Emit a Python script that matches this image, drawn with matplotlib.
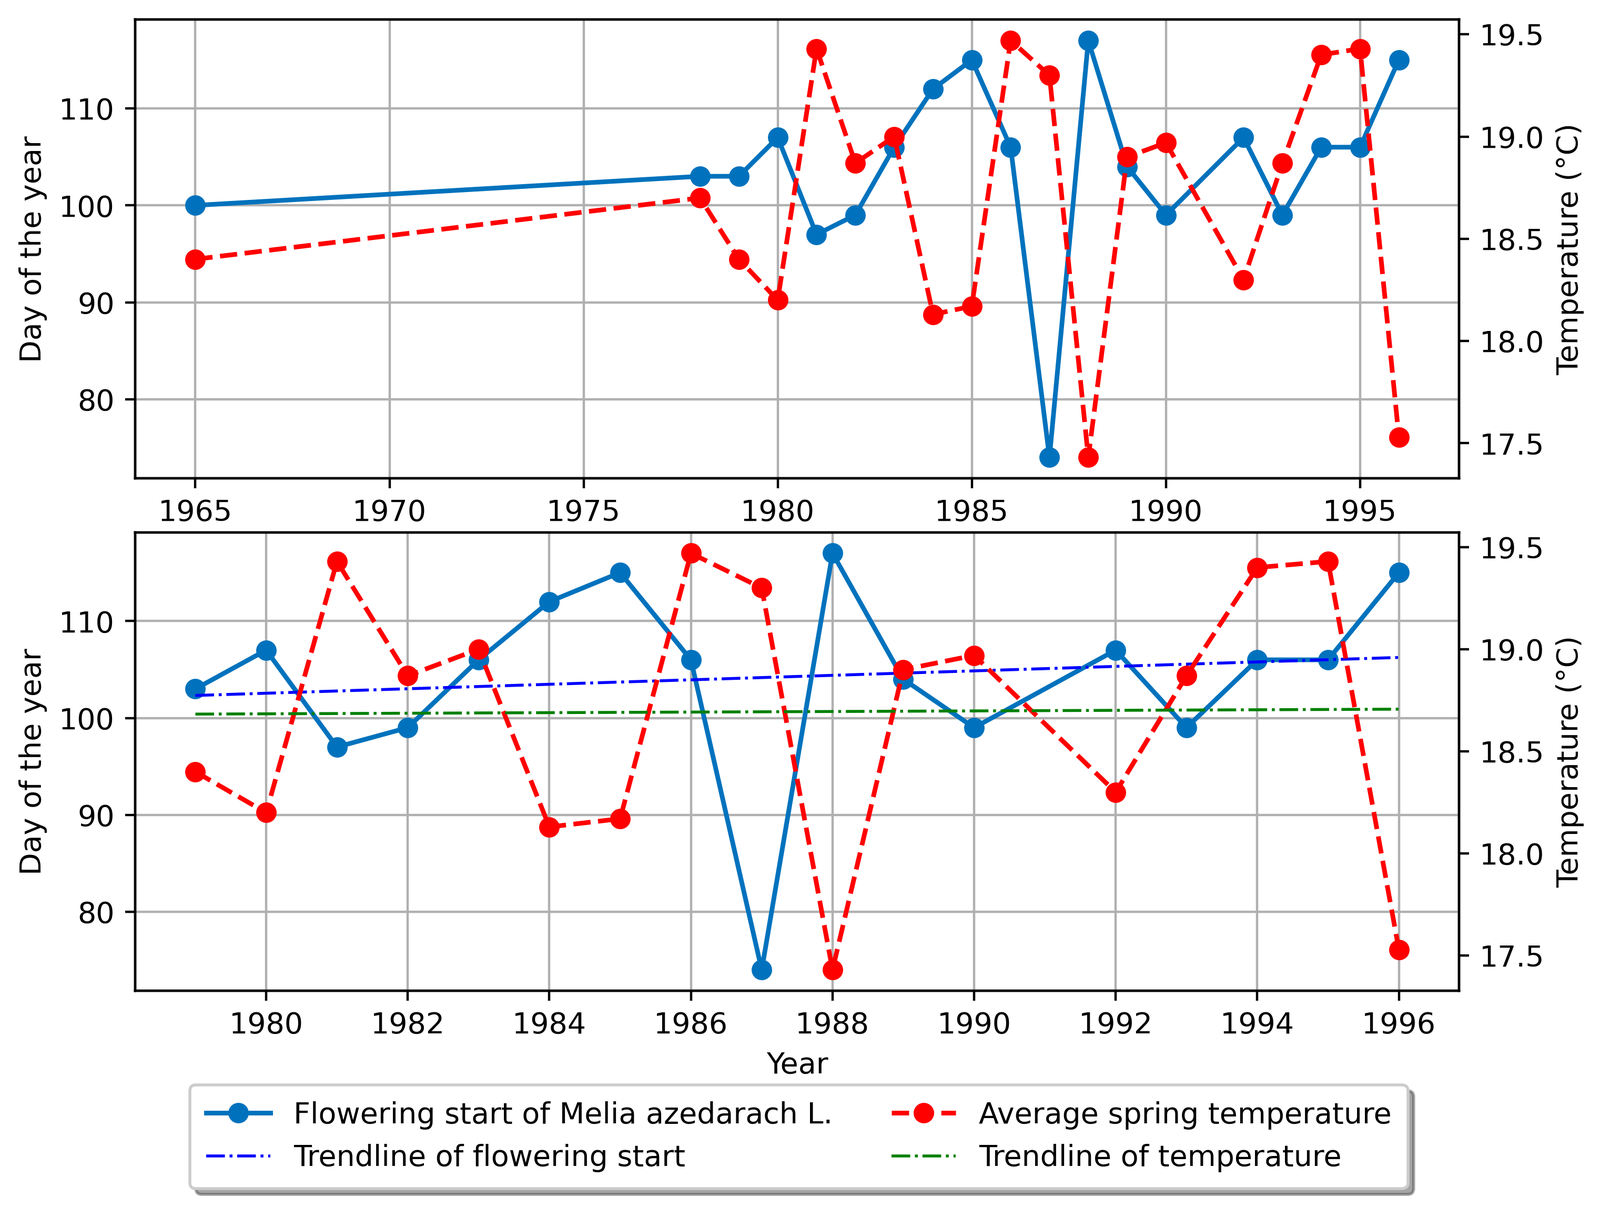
import numpy as np
import matplotlib.pyplot as plt
from matplotlib.ticker import MultipleLocator

# flowering start (day of year) and average spring temperature
years = [1965, 1978, 1979, 1980, 1981, 1982, 1983, 1984, 1985, 1986,
         1987, 1988, 1989, 1990, 1992, 1993, 1994, 1995, 1996]
flowering = [100, 103, 103, 107, 97, 99, 106, 112, 115, 106,
             74, 117, 104, 99, 107, 99, 106, 106, 115]
temperature = [18.40, 18.70, 18.40, 18.20, 19.43, 18.87, 19.00, 18.13, 18.17, 19.47,
               19.30, 17.43, 18.90, 18.97, 18.30, 18.87, 19.40, 19.43, 17.53]
START_YEAR = 1979

BLUE = '#0072BD'


def plot_pair(ax, x, flower, temp):
    l1, = ax.plot(x, flower, color=BLUE, marker='o', linestyle='-', linewidth=1.6,
                  label='Flowering start of Melia azedarach L.')
    ax.set_ylabel('Day of the year')
    ax.grid(True)
    ax2 = ax.twinx()
    l2, = ax2.plot(x, temp, color='r', marker='o', linestyle='--', linewidth=1.6,
                   label='Average spring temperature')
    ax2.set_ylabel('Temperature (°C)')
    return ax2, l1, l2


def main():
    fig = plt.figure(figsize=(3042 / 400, 2294 / 400), dpi=400)
    ax_top = fig.add_axes([0.0845, 0.6037, 0.8274, 0.3800])
    ax_bot = fig.add_axes([0.0845, 0.1792, 0.8274, 0.3797])

    plot_pair(ax_top, years, flowering, temperature)

    x = np.array(years)
    sel = x >= START_YEAR
    xs = x[sel]
    fs = np.array(flowering)[sel]
    ts = np.array(temperature)[sel]
    ax_bot2, l1, l2 = plot_pair(ax_bot, xs, fs, ts)

    kf, bf = np.polyfit(xs, fs, 1)
    kt, bt = np.polyfit(xs, ts, 1)
    l3, = ax_bot.plot(xs, kf * xs + bf, 'b-.', linewidth=1,
                      label='Trendline of flowering start')
    l4, = ax_bot2.plot(xs, kt * xs + bt, 'g-.', linewidth=1,
                       label='Trendline of temperature')
    ax_bot.xaxis.set_major_locator(MultipleLocator(2))
    ax_bot.set_xlabel('Year')

    fig.legend(handles=[l1, l3, l2, l4], loc='upper center', ncol=2,
               bbox_to_anchor=(0.4993, 0.1011), borderaxespad=0,
               borderpad=0.55, columnspacing=2.0, handlelength=2.2,
               fancybox=True, shadow=True)

    fig.savefig('out.png', dpi=400)


if __name__ == '__main__':
    main()
